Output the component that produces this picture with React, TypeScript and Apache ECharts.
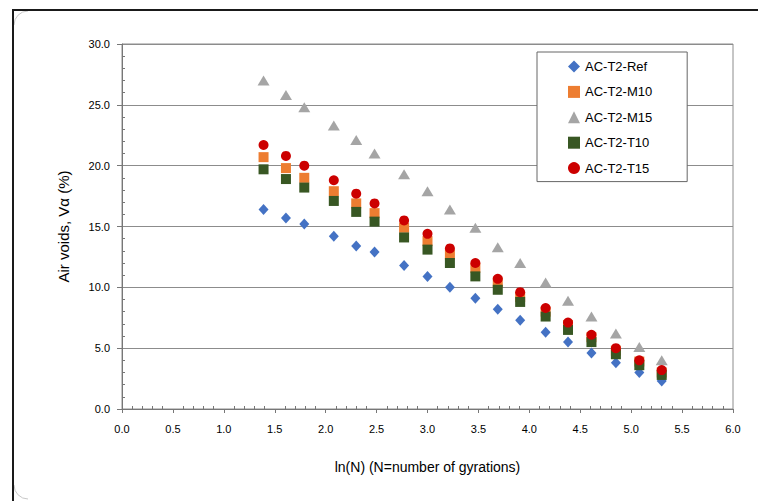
import React, { useEffect, useRef } from "react";
import * as echarts from "echarts";

const xVals = [1.39, 1.61, 1.79, 2.08, 2.3, 2.48, 2.77, 3.0, 3.22, 3.47, 3.69, 3.91, 4.16, 4.38, 4.61, 4.85, 5.08, 5.3];
const refVals = [16.4, 15.7, 15.2, 14.2, 13.4, 12.9, 11.8, 10.9, 10.0, 9.1, 8.2, 7.3, 6.3, 5.5, 4.6, 3.8, 3.0, 2.3];
const m10Vals = [20.7, 19.8, 19.0, 17.9, 16.9, 16.1, 14.9, 13.8, 12.7, 11.6, 10.4, 9.2, 8.0, 6.9, 5.9, 4.8, 3.9, 3.0];
const m15Vals = [27.0, 25.8, 24.8, 23.3, 22.1, 21.0, 19.3, 17.9, 16.4, 14.9, 13.3, 12.0, 10.4, 8.9, 7.6, 6.2, 5.1, 4.0];
const t10Vals = [19.7, 18.9, 18.2, 17.1, 16.2, 15.4, 14.1, 13.1, 12.0, 10.9, 9.8, 8.8, 7.6, 6.5, 5.5, 4.5, 3.6, 2.8];
const t15Vals = [21.7, 20.8, 20.0, 18.8, 17.7, 16.9, 15.5, 14.4, 13.2, 12.0, 10.7, 9.6, 8.3, 7.1, 6.1, 5.0, 4.0, 3.2];
const seriesNames = ["AC-T2-Ref", "AC-T2-M10", "AC-T2-M15", "AC-T2-T10", "AC-T2-T15"];

const FONT = "'Liberation Sans', Arial, sans-serif";

export default function App() {
  const ref = useRef<HTMLDivElement>(null);
  useEffect(() => {
    if (!ref.current) return;
    const chart = echarts.init(ref.current, undefined, { renderer: "svg" });
    const mk = (vals: number[]) => vals.map((v, i) => [xVals[i], v]);
    const defs = [
      { vals: refVals, symbol: "diamond", size: [10, 11], color: "#4472C4" },
      { vals: m10Vals, symbol: "rect", size: 10, color: "#ED7D31" },
      { vals: m15Vals, symbol: "triangle", size: [12, 10], color: "#A5A5A5" },
      { vals: t10Vals, symbol: "rect", size: 10, color: "#385723" },
      { vals: t15Vals, symbol: "circle", size: 10, color: "#CC0000" },
    ];
    const axisCommon = {
      type: "value",
      splitLine: { show: false },
    };
    chart.setOption({
      animation: false,
      textStyle: { fontFamily: FONT },
      grid: {
        left: 122,
        top: 44,
        right: 25,
        bottom: 92,
        show: true,
        borderColor: "#8c8c8c",
        borderWidth: 1,
      },
      graphic: [
        {
          type: "arc",
          shape: { cx: 28, cy: 25, r: 14, startAngle: Math.PI, endAngle: Math.PI * 1.5 },
          style: { fill: "none", stroke: "#c8c8c8", lineWidth: 1 },
        },
        {
          type: "arc",
          shape: { cx: 28, cy: 485, r: 14, startAngle: Math.PI * 0.5, endAngle: Math.PI },
          style: { fill: "none", stroke: "#c8c8c8", lineWidth: 1 },
        },
        {
          type: "line",
          shape: { x1: 12, y1: 10, x2: 758, y2: 10 },
          style: { stroke: "#1a1a1a", lineWidth: 2 },
        },
        {
          type: "line",
          shape: { x1: 13, y1: 9, x2: 13, y2: 501 },
          style: { stroke: "#1a1a1a", lineWidth: 2 },
        },
      ],
      legend: {
        orient: "vertical",
        left: 537,
        top: 52,
        padding: [8, 35, 7, 31],
        itemWidth: 12,
        itemHeight: 12,
        itemGap: 12.4,
        borderColor: "#666",
        borderWidth: 1,
        backgroundColor: "#fff",
        textStyle: { fontSize: 13, color: "#000", fontFamily: FONT },
        data: seriesNames,
      },
      xAxis: [
        {
          ...axisCommon,
          min: 0,
          max: 6,
          interval: 0.5,
          name: "ln(N) (N=number of gyrations)",
          nameLocation: "middle",
          nameGap: 51,
          nameTextStyle: { fontSize: 14, color: "#000" },
          axisLine: { show: true, lineStyle: { color: "#777", width: 1 } },
          axisTick: { show: true, inside: false, length: 4, lineStyle: { color: "#777" } },
          axisLabel: {
            fontSize: 11,
            color: "#000",
            margin: 14,
            formatter: (v: number) => v.toFixed(1),
          },
        },
        {
          ...axisCommon,
          min: 0,
          max: 6,
          interval: 0.5,
          position: "bottom",
          axisLine: { show: false },
          axisTick: { show: false, inside: true },
          axisLabel: { show: false },
          minorTick: { show: true, splitNumber: 5, length: 3, lineStyle: { color: "#777" } },
        },
      ],
      yAxis: [
        {
          ...axisCommon,
          min: 0,
          max: 30,
          interval: 5,
          name: "Air voids, V\u03b1 (%)",
          nameLocation: "middle",
          nameGap: 51,
          nameTextStyle: { fontSize: 15, color: "#000" },
          axisLine: { show: true, lineStyle: { color: "#777", width: 1 } },
          axisTick: { show: true, inside: false, length: 5, lineStyle: { color: "#777" } },
          splitLine: { show: true, lineStyle: { color: "#8c8c8c", width: 1 } },
          axisLabel: {
            fontSize: 11,
            color: "#000",
            margin: 12,
            formatter: (v: number) => v.toFixed(1),
          },
        },
        {
          ...axisCommon,
          min: 0,
          max: 30,
          interval: 5,
          position: "left",
          axisLine: { show: false },
          axisTick: { show: false, inside: true },
          axisLabel: { show: false },
          minorTick: { show: true, splitNumber: 5, length: 3, lineStyle: { color: "#777" } },
        },
      ],
      series: defs.map((d, i) => ({
        name: seriesNames[i],
        type: "scatter",
        symbol: d.symbol,
        symbolSize: d.size,
        itemStyle: { color: d.color, opacity: 1 },
        data: mk(d.vals),
      })),
    });
    return () => chart.dispose();
  }, []);
  return <div ref={ref} style={{ width: 758, height: 501, position: "absolute", left: 0, top: 0 }} />;
}
